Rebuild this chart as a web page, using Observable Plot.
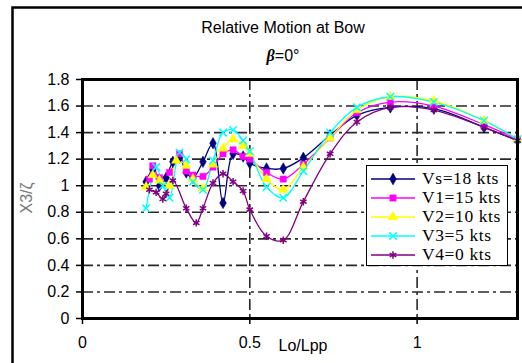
<!DOCTYPE html>
<html>
<head>
<meta charset="utf-8">
<script src="https://cdn.jsdelivr.net/npm/d3@7"></script>
<script src="https://cdn.jsdelivr.net/npm/@observablehq/plot@0.6"></script>
<style>
  html, body { margin: 0; padding: 0; background: #fff; }
  #wrap { position: relative; width: 522px; height: 363px; overflow: hidden; }
  #legend {
    position: absolute; left: 366px; top: 165px; width: 142px; height: 101px;
    border: 1px solid #000; background: #fff; box-sizing: border-box;
    font-family: "Liberation Serif", "Times New Roman", serif; font-size: 17.5px; color: #000;
    letter-spacing: 0.6px; padding-top: 3px; white-space: nowrap;
  }
  #legend .row { display: flex; align-items: center; height: 19px; }
  #legend svg { flex: none; margin-left: 4px; margin-right: 7px; }
</style>
</head>
<body>
<div id="wrap"></div>
<script>
// Relative motion at the bow, heading 0 deg, for five ship speeds
const seriesNames = ["Vs=18 kts", "V1=15 kts", "V2=10 kts", "V3=5 kts", "V4=0 kts"];
const seriesColors = ["#000080", "#ff00ff", "#ffff00", "#00ffff", "#800080"];
const seriesSymbols = ["diamond", "square", "triangle", "times", "asterisk"];

const vsX = [0.19, 0.21, 0.23, 0.25, 0.27, 0.29, 0.31, 0.33, 0.36, 0.39, 0.42, 0.45, 0.48, 0.50, 0.55, 0.60, 0.66, 0.74, 0.82, 0.92, 1.05, 1.20, 1.30];
const vsY = [1.03, 1.12, 1.00, 1.06, 1.18, 1.21, 1.10, 1.06, 1.18, 1.32, 0.87, 1.24, 1.22, 1.17, 1.13, 1.13, 1.21, 1.38, 1.53, 1.59, 1.58, 1.44, 1.34];

const v1X = [0.20, 0.21, 0.23, 0.26, 0.29, 0.31, 0.33, 0.36, 0.39, 0.42, 0.45, 0.48, 0.50, 0.55, 0.60, 0.66, 0.74, 0.82, 0.92, 1.05, 1.20, 1.30];
const v1Y = [1.05, 1.15, 1.06, 1.10, 1.24, 1.11, 1.08, 1.07, 1.14, 1.24, 1.27, 1.22, 1.20, 1.10, 1.05, 1.16, 1.36, 1.55, 1.63, 1.60, 1.46, 1.35];

const v2X = [0.19, 0.21, 0.23, 0.26, 0.28, 0.31, 0.33, 0.36, 0.39, 0.42, 0.45, 0.48, 0.50, 0.55, 0.60, 0.66, 0.74, 0.82, 0.92, 1.05, 1.20, 1.30];
const v2Y = [0.99, 1.08, 1.04, 1.00, 1.19, 1.15, 1.05, 0.98, 1.16, 1.28, 1.35, 1.30, 1.24, 1.05, 0.97, 1.14, 1.36, 1.57, 1.67, 1.64, 1.49, 1.35];

const v3X = [0.19, 0.22, 0.24, 0.26, 0.29, 0.31, 0.33, 0.36, 0.39, 0.42, 0.45, 0.48, 0.50, 0.55, 0.60, 0.66, 0.74, 0.82, 0.92, 1.05, 1.20, 1.30];
const v3Y = [0.83, 1.14, 1.00, 0.91, 1.25, 1.20, 1.03, 0.97, 1.19, 1.40, 1.42, 1.34, 1.26, 0.99, 0.91, 1.11, 1.40, 1.59, 1.67, 1.63, 1.49, 1.35];

const v4X = [0.20, 0.22, 0.24, 0.25, 0.27, 0.31, 0.34, 0.36, 0.39, 0.42, 0.45, 0.48, 0.50, 0.55, 0.60, 0.66, 0.74, 0.82, 0.92, 1.05, 1.20, 1.30];
const v4Y = [0.97, 0.95, 0.90, 0.94, 1.04, 0.83, 0.72, 0.83, 1.02, 1.09, 1.03, 0.96, 0.82, 0.62, 0.59, 0.88, 1.24, 1.48, 1.59, 1.57, 1.44, 1.34];

const xTicks = [0, 0.5, 1];
const yTicks = [0, 0.2, 0.4, 0.6, 0.8, 1, 1.2, 1.4, 1.6, 1.8];

const seriesX = [vsX, v1X, v2X, v3X, v4X];
const seriesY = [vsY, v1Y, v2Y, v3Y, v4Y];
const rows = seriesNames.flatMap((name, i) =>
  seriesX[i].map((x, j) => ({series: name, x, y: seriesY[i][j]})));

const gridStyle = {stroke: "#2a2a2a", strokeOpacity: 1, strokeWidth: 1.6, strokeDasharray: "11,4,3,4"};
const isHollow = s => s === "times" || s === "asterisk";

const lineMarks = [];
const dotMarks = [];
seriesNames.forEach((name, i) => {
  const data = rows.filter(d => d.series === name);
  lineMarks.push(Plot.line(data, {x: "x", y: "y", stroke: seriesColors[i], strokeWidth: 1.3, curve: "catmull-rom"}));
  const hollow = isHollow(seriesSymbols[i]);
  dotMarks.push(Plot.dot(data, {
    x: "x", y: "y", symbol: () => seriesSymbols[i], r: 3.5,
    fill: hollow ? "none" : seriesColors[i],
    stroke: seriesColors[i], strokeWidth: hollow ? 1.5 : 0.5
  }));
});

const chart = Plot.plot({
  width: 522,
  height: 363,
  marginLeft: 82,
  marginRight: 5,
  marginTop: 79,
  marginBottom: 45,
  style: {fontFamily: "'Liberation Sans', Arial, sans-serif", fontSize: "16px", background: "#fff", color: "#000", overflow: "visible"},
  x: {domain: [0, 1.3]},
  y: {domain: [0, 1.8]},
  symbol: {type: "identity"},
  marks: [
    Plot.gridY(yTicks.filter(t => t > 0 && t < 1.8), gridStyle),
    Plot.gridX(xTicks.filter(t => t > 0), gridStyle),
    Plot.axisY(yTicks, {tickSize: 6, tickPadding: 7, strokeWidth: 1.5, label: null, tickFormat: d => String(d)}),
    Plot.axisX(xTicks, {tickSize: 6, tickPadding: 12, strokeWidth: 1.5, label: null, tickFormat: d => String(d)}),
    ...lineMarks,
    ...dotMarks,
    Plot.frame({stroke: "#000", strokeWidth: 3})
  ]
});

const svg = d3.select(chart);
// outer chart border
svg.insert("rect", ":first-child")
  .attr("x", 12.5).attr("y", 7.5).attr("width", 520).attr("height", 380)
  .attr("fill", "#fff").attr("stroke", "#000").attr("stroke-width", 2.5);

svg.append("text").attr("x", 283).attr("y", 33).attr("text-anchor", "middle")
  .attr("font-size", 16).text("Relative Motion at Bow");
const sub = svg.append("text").attr("x", 283).attr("y", 61).attr("text-anchor", "middle").attr("font-size", 16);
sub.append("tspan").attr("font-weight", "bold").attr("font-style", "italic").attr("font-family", "'Liberation Serif', serif").text("β");
sub.append("tspan").text("=0°");

svg.append("text").attr("transform", "translate(32,198) rotate(-90)").attr("text-anchor", "middle")
  .attr("font-size", 16).attr("fill", "#777").text("X3/ζ");
svg.append("text").attr("x", 303).attr("y", 351).attr("text-anchor", "middle")
  .attr("font-size", 16).text("Lo/Lpp");

const wrap = document.getElementById("wrap");
wrap.appendChild(chart);

// legend box
const symMap = {diamond: d3.symbolDiamond, square: d3.symbolSquare, triangle: d3.symbolTriangle, times: d3.symbolTimes, asterisk: d3.symbolAsterisk};
const legend = document.createElement("div");
legend.id = "legend";
seriesNames.forEach((name, i) => {
  const row = document.createElement("div");
  row.className = "row";
  const sw = d3.create("svg").attr("width", 44).attr("height", 12);
  sw.append("line").attr("x1", 0).attr("x2", 44).attr("y1", 6).attr("y2", 6)
    .attr("stroke", seriesColors[i]).attr("stroke-width", 1.5);
  const hollow = isHollow(seriesSymbols[i]);
  sw.append("path").attr("transform", "translate(22,6)")
    .attr("d", d3.symbol(symMap[seriesSymbols[i]], 40)())
    .attr("fill", hollow ? "none" : seriesColors[i])
    .attr("stroke", seriesColors[i]).attr("stroke-width", hollow ? 1.5 : 0.5);
  row.appendChild(sw.node());
  const label = document.createElement("span");
  label.textContent = name;
  row.appendChild(label);
  legend.appendChild(row);
});
wrap.appendChild(legend);
</script>
</body>
</html>
